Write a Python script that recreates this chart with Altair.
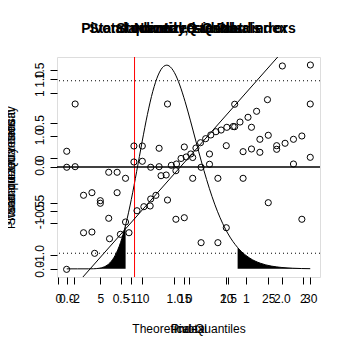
import altair as alt
import pandas as pd

FONT = "Liberation Sans"

# ---------------- data ----------------
# Normal Q-Q plot
qq_theoretical = [-2.13, -1.64, -1.38, -1.19, -1.04, -0.90, -0.78, -0.67, -0.57, -0.48,
                  -0.39, -0.30, -0.21, -0.13, -0.04, 0.04, 0.13, 0.21, 0.30, 0.39,
                  0.48, 0.57, 0.67, 0.78, 0.90, 1.04, 1.19, 1.38, 1.64, 2.13]
qq_sample = [-1.163, -0.981, -0.815, -0.765, -0.747, -0.497, -0.451, -0.443, -0.322, -0.099,
             -0.091, 0.019, 0.034, 0.097, 0.114, 0.148, 0.216, 0.276, 0.322, 0.364,
             0.401, 0.420, 0.451, 0.460, 0.511, 0.565, 0.633, 0.765, 1.148, 1.159]
qq_line_x = [-2.3, 2.3]
qq_line_y = [-1.584, 1.794]
h_dotted = [-0.98, 0.98]
h_solid = [0.0]

# residuals against index (two series)
idx_a = list(range(1, 31))
res_a = [0.108, 0.835, -0.569, -0.529, -0.652, -0.215, -0.215, -0.308, 0.189, 0.189,
         -0.138, 0.154, 0.835, -0.191, 0.174, 0.012, -0.138, 0.066, -0.308, 0.194,
         0.831, 0.102, 0.477, 0.292, 0.354, 0.194, 0.231, 0.292, 0.343, 0.835]
idx_b = [1, 2, 3, 4, 5, 6, 7, 8, 9, 10, 11, 12, 13, 14, 15, 16, 17, 18, 19, 20,
         21, 22, 23, 24, 25, 26, 28, 29, 30]
res_b = [-0.138, -0.129, -1.145, -1.134, -0.692, -0.923, -0.529, -0.980, -0.057, -0.046,
         -0.626, -0.129, -0.642, -0.938, -0.914, -0.308, -1.298, -0.092, -1.298, -1.068,
         0.486, -0.308, 0.143, 0.092, -0.683, 0.138, -0.088, -0.938, 0.015]

# density of the pivotal quantity
dens_x = [0.0, 0.10, 0.20, 0.25, 0.30, 0.35, 0.40, 0.45, 0.50, 0.547, 0.55, 0.60, 0.65,
          0.70, 0.75, 0.80, 0.85, 0.90, 0.93, 0.95, 1.00, 1.05, 1.10, 1.15, 1.20, 1.25,
          1.30, 1.35, 1.40, 1.45, 1.50, 1.588, 1.60, 1.70, 1.80, 1.90, 2.00, 2.10, 2.263]
dens_y = [0.0, 0.0, 0.0001, 0.0008, 0.0043, 0.0157, 0.0443, 0.1017, 0.1986, 0.3307, 0.3405,
          0.5240, 0.7366, 0.9587, 1.1673, 1.3414, 1.4648, 1.5293, 1.5390, 1.5337, 1.4837,
          1.3893, 1.2630, 1.1178, 0.9653, 0.8149, 0.6738, 0.5465, 0.4354, 0.3412, 0.2633,
          0.1612, 0.1502, 0.0815, 0.0422, 0.0210, 0.0101, 0.0047, 0.0013]
lower_cut = 0.547
upper_cut = 1.588
observed = 0.63

main_titles = ["Pivotal quantity, standard errors", "Standardized residuals: index",
               "Normal Q-Q Plot", "Studentized residuals"]

# ---------------- scales ----------------
def sc(d):
    return alt.Scale(domain=d, nice=False, zero=False)

X_QQ, Y_QQ = [-2.298, 2.298], [-1.25, 1.25]
X_IDX, Y_IDX = [-0.16, 31.16], [-1.826, 1.558]
X_D, Y_D = [-0.0905, 2.3535], [-0.0616, 1.6006]

MINUS = "\u2212"


def xaxis(values, fmt, title):
    return alt.Axis(values=values, orient="bottom", title=title,
                    labelExpr=f"replace(format(datum.value, '{fmt}'), '{MINUS}', '-')",
                    domain=False, grid=False, tickSize=7, tickColor="black",
                    labelFont=FONT, labelFontSize=12, labelColor="black",
                    labelPadding=9, labelOverlap=False, labelFlush=False,
                    titleFont=FONT, titleFontSize=12, titleFontWeight="normal",
                    titleColor="black", titleX=131.5, titleY=55,
                    titleBaseline="alphabetic", titleAlign="center")


def yaxis(values, fmt, title):
    return alt.Axis(values=values, orient="left", title=title,
                    labelExpr=f"replace(format(datum.value, '{fmt}'), '{MINUS}', '-')",
                    domain=False, grid=False, tickSize=7, tickColor="black",
                    labelFont=FONT, labelFontSize=12, labelColor="black",
                    labelAngle=270, labelAlign="center", labelBaseline="bottom",
                    labelPadding=4, labelOverlap=False, labelFlush=False,
                    titleFont=FONT, titleFontSize=12, titleFontWeight="normal",
                    titleColor="black", titleX=-43, titleY=110, titleAngle=270,
                    titleBaseline="alphabetic", titleAlign="center")


NOAX = None

# ---------------- layers ----------------
dens = pd.DataFrame({"x": dens_x, "y": dens_y})
left_tail = dens[dens.x <= lower_cut]
right_tail = dens[dens.x >= upper_cut]

area_l = alt.Chart(left_tail).mark_area(color="black", interpolate="monotone").encode(
    x=alt.X("x:Q", scale=sc(X_D), axis=NOAX),
    y=alt.Y("y:Q", scale=sc(Y_D), axis=NOAX),
    y2=alt.datum(0))
area_r = alt.Chart(right_tail).mark_area(color="black", interpolate="monotone").encode(
    x=alt.X("x:Q", scale=sc(X_D), axis=NOAX),
    y=alt.Y("y:Q", scale=sc(Y_D), axis=NOAX),
    y2=alt.datum(0))
dens_line = alt.Chart(dens).mark_line(color="black", strokeWidth=1, interpolate="monotone").encode(
    x=alt.X("x:Q", scale=sc(X_D), axis=xaxis([0, 0.5, 1, 1.5, 2], ".1f", "Pivotal")),
    y=alt.Y("y:Q", scale=sc(Y_D), axis=yaxis([0, 0.5, 1, 1.5], ".1f", "Pivotal quantity density")))
red = alt.Chart(pd.DataFrame({"v": [observed]})).mark_rule(color="red", strokeWidth=1).encode(
    x=alt.X("v:Q", scale=sc(X_D), axis=NOAX))

qq = pd.DataFrame({"x": qq_theoretical, "y": qq_sample})
qq_pts = alt.Chart(qq).mark_point(shape="circle", filled=False, color="black", size=38,
                                  strokeWidth=1, opacity=1).encode(
    x=alt.X("x:Q", scale=sc(X_QQ), axis=xaxis([-2, -1, 0, 1, 2], "d", "Theoretical Quantiles")),
    y=alt.Y("y:Q", scale=sc(Y_QQ), axis=yaxis([-1, -0.5, 0, 0.5, 1], ".1f", "Sample Quantiles")))
qq_ln = alt.Chart(pd.DataFrame({"x": qq_line_x, "y": qq_line_y})).mark_line(
    color="black", strokeWidth=1, clip=True).encode(
    x=alt.X("x:Q", scale=sc(X_QQ), axis=NOAX),
    y=alt.Y("y:Q", scale=sc(Y_QQ), axis=NOAX))
hdot = alt.Chart(pd.DataFrame({"v": h_dotted})).mark_rule(
    color="black", strokeWidth=1, strokeDash=[1, 3]).encode(
    y=alt.Y("v:Q", scale=sc(Y_QQ), axis=NOAX))
hsol = alt.Chart(pd.DataFrame({"v": h_solid})).mark_rule(color="black", strokeWidth=1.5).encode(
    y=alt.Y("v:Q", scale=sc(Y_QQ), axis=NOAX))

ia = pd.DataFrame({"i": idx_a, "r": res_a})
ib = pd.DataFrame({"i": idx_b, "r": res_b})
pts_a = alt.Chart(ia).mark_point(shape="circle", filled=False, color="black", size=38,
                                 strokeWidth=1, opacity=1).encode(
    x=alt.X("i:Q", scale=sc(X_IDX), axis=xaxis([0, 5, 10, 15, 20, 25, 30], "d", "Index")),
    y=alt.Y("r:Q", scale=sc(Y_IDX), axis=yaxis([-2, -1, 0, 1, 2], "d", "Standardized residual")))
pts_b = alt.Chart(ib).mark_point(shape="circle", filled=False, color="black", size=38,
                                 strokeWidth=1, opacity=1).encode(
    x=alt.X("i:Q", scale=sc(X_IDX), axis=NOAX),
    y=alt.Y("r:Q", scale=sc(Y_IDX), axis=NOAX))

titles = alt.Chart(pd.DataFrame({"t": main_titles})).mark_text(
    font=FONT, fontSize=14, fontWeight="bold", color="black", baseline="alphabetic",
    align="center").encode(text="t:N", x=alt.value(131.5), y=alt.value(-24))

chart = alt.layer(area_l, area_r, dens_line, red, hdot, hsol, qq_ln, qq_pts, pts_a, pts_b,
                  titles).resolve_scale(x="independent", y="independent").properties(
    width=263, height=220,
    autosize=alt.AutoSizeParams(type="none"),
    padding={"left": 49, "top": 49, "right": 21, "bottom": 64},
).configure_view(stroke="black", strokeWidth=1.5).configure(background="white")

chart.save("out.html", embed_options={"renderer": "svg", "actions": False})
